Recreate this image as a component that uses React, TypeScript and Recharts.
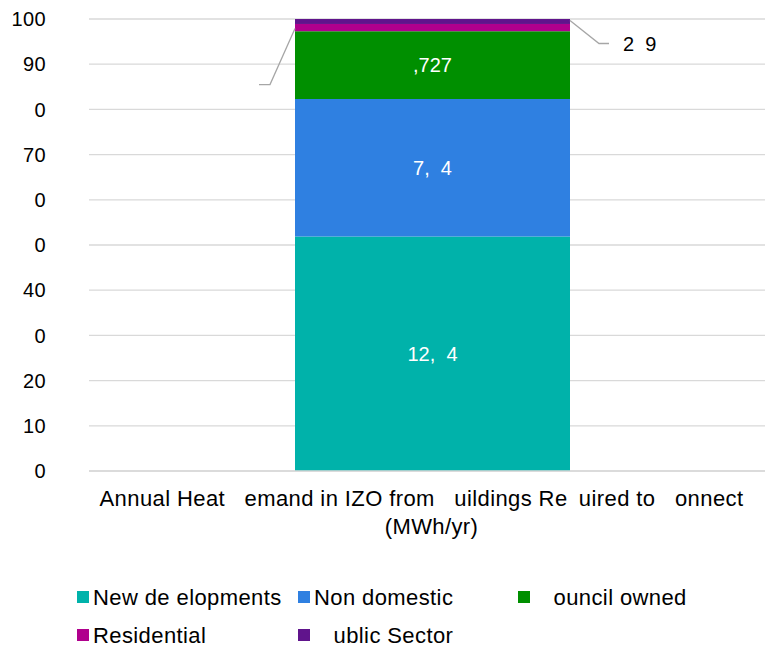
import React from 'react';
import { BarChart, Bar, XAxis, YAxis, CartesianGrid, LabelList } from 'recharts';

// glyphs missing in the source render are kept as blank gaps
const categoryLines = [
    'Annual Heat\u00A0\u00A0\u00A0emand in IZO from\u00A0\u00A0\u00A0uildings Re\u00A0\u2009uired to\u00A0\u00A0\u00A0onnect',
    '(MWh/yr)',
];
const seriesKeys = ['newDev', 'nonDomestic', 'council', 'residential', 'publicSector'];
const seriesNames = [
    'New de\u00A0elopments',
    'Non domestic',
    '\u00A0\u00A0\u00A0ouncil owned',
    'Residential',
    '\u00A0\u00A0\u00A0ublic Sector',
];
const seriesColors = ['#00B2AA', '#2F80E1', '#008F00', '#B0008D', '#60148C'];
// share of total (%)
const seriesValues = [51.9, 30.4, 15.0, 1.6, 1.1];
const valueLabels = ['12,\u00A0\u00A04', '7,\u00A0\u00A04', ',727', '', '2\u00A0\u00A09'];
const yTicks = [0, 10, 20, 30, 40, 50, 60, 70, 80, 90, 100];
const yTickLabels = ['0', '10', '20', '0', '40', '0', '0', '70', '0', '90', '100'];

const FONT = '"Liberation Sans", Arial, Helvetica, sans-serif';

const row: Record<string, number | string> = { name: categoryLines.join(' ') };
seriesKeys.forEach((k, i) => {
    row[k] = seriesValues[i];
});
const data = [row];

const LEADER = '#A6A6A6';

// bar shape with a leader line going out to the left
function ResidentialShape(props: any) {
    const { x, y, width, height, fill } = props;
    const sy = y + height / 2 + 1;
    return (
        <g>
            <rect x={x} y={y} width={width} height={height} fill={fill} />
            <polyline
                points={`${x},${sy} ${x - 25},${sy + 56} ${x - 36},${sy + 56}`}
                fill="none"
                stroke={LEADER}
                strokeWidth={1.3}
            />
            <text x={x - 42} y={sy + 56} dy="0.355em" textAnchor="end" fontSize={20} fill="#000">
                {valueLabels[3]}
            </text>
        </g>
    );
}

// bar shape with a leader line going out to the right
function PublicShape(props: any) {
    const { x, y, width, height, fill } = props;
    const ex = x + width;
    const sy = y + 1.5;
    return (
        <g>
            <rect x={x} y={y} width={width} height={height} fill={fill} />
            <polyline
                points={`${ex},${sy} ${ex + 29},${sy + 23} ${ex + 39},${sy + 23}`}
                fill="none"
                stroke={LEADER}
                strokeWidth={1.3}
            />
            <text
                x={ex + 53}
                y={sy + 23}
                dy="0.355em"
                fontSize={20}
                fill="#000"
                style={{ whiteSpace: 'pre' }}
            >
                {valueLabels[4]}
            </text>
        </g>
    );
}

function CategoryTick(props: any) {
    const { x, y } = props;
    return (
        <text
            x={x}
            y={y}
            fontSize={22}
            letterSpacing={0.4}
            fill="#000"
            textAnchor="middle"
            style={{ whiteSpace: 'pre' }}
        >
            <tspan x={x - 11} dy={27}>
                {categoryLines[0]}
            </tspan>
            <tspan x={x - 1} dy={28}>
                {categoryLines[1]}
            </tspan>
        </text>
    );
}

export default function App() {
    return (
        <div
            style={{
                position: 'absolute',
                left: 0,
                top: 0,
                width: 765,
                height: 648,
                overflow: 'hidden',
                background: '#fff',
                fontFamily: FONT,
            }}
        >
            <BarChart
                width={780}
                height={648}
                data={data}
                margin={{ top: 19, right: 4, bottom: 0, left: 0 }}
                style={{ fontFamily: FONT }}
            >
                <CartesianGrid vertical={false} stroke="#D9D9D9" strokeWidth={1.3} />
                <XAxis
                    dataKey="name"
                    height={177}
                    axisLine={{ stroke: '#D9D9D9', strokeWidth: 1.3 }}
                    tickLine={false}
                    interval={0}
                    tick={<CategoryTick />}
                />
                <YAxis
                    width={89}
                    domain={[0, 100]}
                    ticks={yTicks}
                    axisLine={false}
                    tickLine={false}
                    tickMargin={37}
                    tick={{ fontSize: 20, fill: '#000', letterSpacing: 0.4 }}
                    tickFormatter={(v: number) => yTickLabels[yTicks.indexOf(v)] ?? ''}
                />
                {seriesKeys.map((k, i) => (
                    <Bar
                        key={k}
                        dataKey={k}
                        name={seriesNames[i]}
                        stackId="a"
                        fill={seriesColors[i]}
                        barSize={275}
                        isAnimationActive={false}
                        shape={i === 3 ? <ResidentialShape /> : i === 4 ? <PublicShape /> : undefined}
                    >
                        {i < 3 && (
                            <LabelList
                                position="center"
                                formatter={() => valueLabels[i]}
                                fill="#fff"
                                fontSize={20}
                                style={{ whiteSpace: 'pre' }}
                            />
                        )}
                    </Bar>
                ))}
            </BarChart>

            {/* legend */}
            {seriesKeys.map((k, i) => {
                const col = i < 3 ? i : i - 3;
                const left = [77, 298, 518][col];
                const top = i < 3 ? 591 : 629;
                return (
                    <div key={k} style={{ position: 'absolute', left, top, height: 12 }}>
                        <div
                            style={{
                                position: 'absolute',
                                left: 0,
                                top: 0,
                                width: 12,
                                height: 12,
                                background: seriesColors[i],
                            }}
                        />
                        <div
                            style={{
                                position: 'absolute',
                                left: 16,
                                top: -6,
                                fontSize: 22,
                                letterSpacing: 0.4,
                                lineHeight: '25px',
                                whiteSpace: 'pre',
                                color: '#000',
                            }}
                        >
                            {seriesNames[i]}
                        </div>
                    </div>
                );
            })}
        </div>
    );
}
